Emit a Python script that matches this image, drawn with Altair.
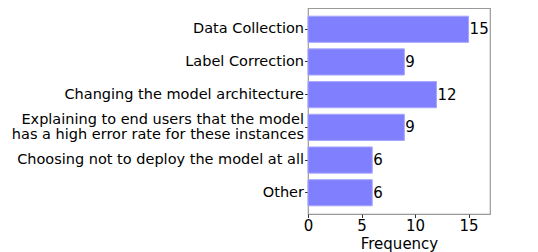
import altair as alt
import pandas as pd

categories = [
    "Data Collection",
    "Label Correction",
    "Changing the model architecture",
    "Explaining to end users that the model|has a high error rate for these instances",
    "Choosing not to deploy the model at all",
    "Other",
]
values = [15, 9, 12, 9, 6, 6]

df = pd.DataFrame({"category": categories, "value": values})

base = alt.Chart(df)

FS = 15
YFS = 14.5

y_enc = alt.Y(
    "category:N",
    sort=categories,
    title=None,
    scale=alt.Scale(paddingInner=0.2, paddingOuter=0.25),
    axis=alt.Axis(
        labelExpr="split(datum.label, '|')",
        labelOffset={
            "condition": {"test": "indexof(datum.value, '|') >= 0", "value": -7.5},
            "value": 0,
        },
        labelFontSize=YFS,
        labelFont="DejaVu Sans",
        labelColor="black",
        labelLineHeight=15,
        labelLimit=400,
        tickSize=3.5,
        tickColor="#333333",
        domain=False,
        labelPadding=1,
    ),
)

x_enc = alt.X(
    "value:Q",
    title="Frequency",
    scale=alt.Scale(domain=[0, 17], nice=False),
    axis=alt.Axis(
        values=[0, 5, 10, 15],
        labelFontSize=FS,
        labelFont="DejaVu Sans",
        labelColor="black",
        labelFlush=False,
        titleFontSize=FS,
        titleFont="DejaVu Sans",
        titleFontWeight="normal",
        titleColor="black",
        titlePadding=3,
        tickSize=3.5,
        tickColor="#333333",
        domain=False,
        grid=False,
        labelPadding=1,
    ),
)

bars = base.mark_bar(color="#8080ff", stroke="#a6a6ff", strokeWidth=1).encode(
    x=x_enc, y=y_enc
)

text = base.mark_text(
    align="left", baseline="middle", dx=1, fontSize=FS, font="DejaVu Sans", color="black"
).encode(x="value:Q", y=alt.Y("category:N", sort=categories), text="value:Q")

chart = (
    (bars + text)
    .properties(
        width=182,
        height=206,
        autosize=alt.AutoSizeParams(type="none"),
        padding={"left": 300, "top": 0, "right": 40, "bottom": 38},
    )
    .configure_view(stroke="#999999", strokeWidth=1.2)
)

chart.save("out.html", embed_options={"renderer": "svg", "actions": False})
